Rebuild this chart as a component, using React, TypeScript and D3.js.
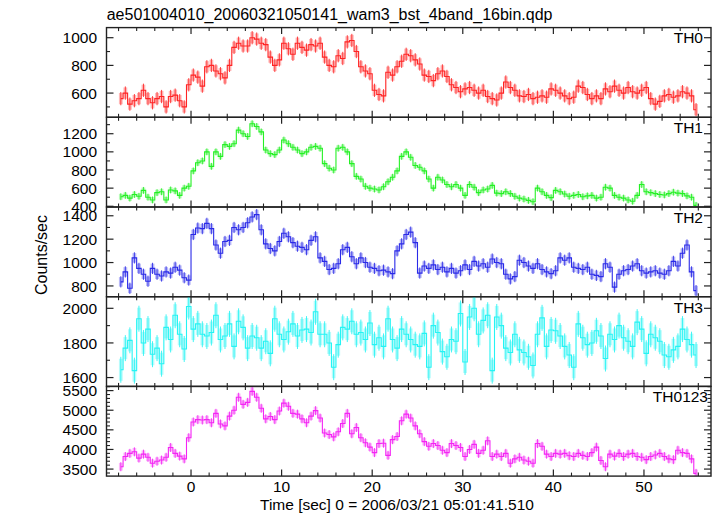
import React from "react";
import * as d3 from "d3";

// bins: centre of first bin and bin width (seconds)
const T_FIRST = -7.75;
const T_BIN = 0.5;

const th0 = [
  560, 600, 520, 545, 560, 620, 560, 530,
  560, 575, 500, 575, 585, 545, 500, 660,
  730, 715, 650, 790, 800, 760, 740, 710,
  800, 930, 960, 940, 940, 1000, 990, 960,
  950, 860, 800, 840, 960, 920, 880, 960,
  930, 910, 950, 940, 960, 860, 800, 790,
  870, 850, 970, 980, 900, 790, 760, 740,
  620, 590, 580, 750, 730, 790, 830, 880,
  870, 840, 810, 730, 720, 690, 740, 760,
  720, 660, 640, 610, 630, 640, 620, 600,
  620, 575, 560, 550, 600, 680, 640, 620,
  580, 575, 590, 560, 570, 580, 570, 630,
  620, 600, 580, 560, 570, 650, 640, 590,
  560, 580, 560, 630, 610, 650, 620, 600,
  640, 610, 600, 620, 640, 560, 520, 540,
  580, 590, 570, 580, 610, 600, 580, 480,
];

const th1 = [
  505, 520, 490, 530, 510, 575, 500, 470,
  550, 560, 470, 580, 570, 520, 600, 620,
  790, 880, 900, 1000, 840, 1000, 950, 1080,
  1060, 1090, 1240, 1200, 1170, 1310, 1280, 1220,
  1020, 980, 970, 1020, 1130, 1090, 1050, 1020,
  980, 1000, 1050, 1060, 1040, 870, 820, 800,
  1040, 1050, 1000, 870, 730, 700, 620, 600,
  590, 580, 615, 670, 720, 790, 950, 1000,
  940, 850, 830, 790, 700, 600, 720, 690,
  640, 615, 640, 600, 520, 640, 610, 550,
  580, 590, 630, 545, 540, 560, 540, 510,
  490, 480, 465, 450, 600, 560, 520, 495,
  575, 560, 535, 510, 520, 530, 505, 515,
  520, 490, 500, 610, 600, 520, 500, 490,
  470, 455, 520, 640, 560, 550, 540, 530,
  525, 540, 555, 545, 540, 515, 500, 410,
];

const th2 = [
  835, 920, 780, 1040, 950, 900, 840, 950,
  900, 885, 920, 910, 960, 935, 870, 850,
  1240, 1295, 1290, 1335, 1290, 1150, 1080, 1180,
  1190, 1300, 1280, 1300, 1340, 1390, 1410, 1280,
  1160, 1120, 1100, 1180, 1250, 1220, 1170, 1140,
  1130, 1110, 1190, 1220, 1040, 1010, 940, 950,
  990, 1110, 1130, 1050, 990, 1040, 1000, 960,
  950, 930, 935, 920, 905, 1100, 1160, 1240,
  1260, 1170, 910, 970, 950, 980, 940, 960,
  920, 950, 910, 930, 980, 940, 1010, 970,
  990, 960, 1030, 1000, 990, 900, 860, 880,
  1020, 1000, 970, 950, 990, 940, 920, 905,
  930, 1040, 1020, 1040, 960, 950, 940, 960,
  900, 890, 880, 990, 960, 790, 900, 930,
  940, 970, 990, 930, 910, 920, 930, 910,
  900, 930, 1010, 970, 1080, 1150, 920, 760,
];

const th3 = [
  1645, 1770, 1815, 1640, 1940, 1800, 1880, 1735,
  1770, 1680, 1890, 1820, 1960, 1850, 1765, 2010,
  1880, 1910, 1850, 1840, 1860, 1960, 1820, 1840,
  1910, 1780, 1925, 1890, 1770, 1840, 1830, 1770,
  1810, 1740, 1940, 1850, 1820, 1865, 1910, 1840,
  1875, 1880, 1860, 1980, 1850, 1850, 1800, 1660,
  1790, 1890, 1880, 1925, 1850, 1860, 1820, 1915,
  1790, 1830, 1780, 1940, 1820, 1770, 1880, 1850,
  1820, 1790, 1780, 1855, 1660, 1900, 1860, 1750,
  1720, 1820, 1810, 1970, 1690, 1950, 2000, 1850,
  1930, 1960, 1640, 1950, 1900, 1770, 1745, 1850,
  1760, 1745, 1720, 1670, 1850, 1945, 1780, 1875,
  1870, 1840, 1780, 1730, 1660, 1910, 1830, 1790,
  1800, 1870, 1840, 1710, 1850, 1820, 1900, 1830,
  1810, 1780, 1920, 1880, 1740, 1850, 1830, 1810,
  1730, 1720, 1760, 1780, 1880, 1820, 1790, 1730,
];

const th0123 = [
  3560, 3820, 3900, 3940, 3780, 3880, 3800, 3650,
  3700, 3730, 3800, 4050, 3900, 3830, 3760, 4300,
  4700, 4760, 4750, 4760, 4680, 4920, 4650, 4600,
  4850, 5000, 5330, 5150, 5200, 5480, 5330, 5050,
  4780, 4840, 4760, 4980, 5180, 5100, 4920, 4900,
  4780, 4680, 4850, 4990, 4800, 4420, 4380, 4320,
  4450, 4660, 4920, 4400, 4560, 4300, 4170, 4060,
  3920, 4150, 4160, 3850, 4250, 4330, 4730, 4900,
  4800, 4600, 4400, 4200, 4080, 4150, 4100, 3980,
  3920, 4150, 4100, 4050, 3820, 4000, 4130, 3900,
  3980, 4220, 3820, 3880, 3820, 3900, 3650, 3760,
  3800, 3730, 3700, 3650, 4150, 4080, 3880, 3820,
  3900, 3880, 3900, 3840, 3820, 3900, 3850, 3820,
  3920, 4060, 3720, 3560, 3880, 3830, 3900, 3820,
  3880, 3900, 3820, 3800, 3740, 3820, 3860, 3900,
  3820, 3760, 3740, 3980, 3920, 3900, 3760, 3390,
];

const panelNames = ["TH0", "TH1", "TH2", "TH3", "TH0123"];
const panelValues = [th0, th1, th2, th3, th0123];
const panelErrors = [48, 38, 48, 75, 115];
const panelDomains: [number, number][] = [
  [425, 1073],
  [392, 1381],
  [708, 1475],
  [1549, 2067],
  [3321, 5607],
];
const panelTickLabels = [
  [600, 800, 1000],
  [400, 600, 800, 1000, 1200],
  [800, 1000, 1200, 1400],
  [1600, 1800, 2000],
  [3500, 4000, 4500, 5000, 5500],
];
const panelColors = ["#ff2424", "#24f024", "#2a2ae8", "#24f4f4", "#f424f4"];
const xTickLabels = [0, 10, 20, 30, 40, 50];

const TITLE = "ae501004010_20060321050141_wam3_bst_4band_16bin.qdp";
const Y_LABEL = "Counts/sec";
const X_LABEL = "Time [sec] 0 = 2006/03/21 05:01:41.510";

const FONT = "'Liberation Sans', Arial, Helvetica, sans-serif";

export default function App() {
  const W = 717;
  const H = 516;
  const left = 106.5;
  const right = 711;
  const top = 27.6;
  const ph = 89.7;

  const x = d3.scaleLinear().domain([-9.33, 57.4]).range([left, right]);
  const majorX = d3.range(-10, 60, 10).filter((v) => x(v) > left && x(v) < right);
  const minorX = d3.range(-8, 58, 2).filter((v) => v % 10 !== 0 && x(v) > left && x(v) < right);

  return (
    <svg
      width={W}
      height={H}
      style={{ position: "absolute", left: 0, top: 0, background: "#fff" }}
      fontFamily={FONT}
    >
      <defs>
        {panelNames.map((n, i) => (
          <clipPath id={`clip${i}`} key={n}>
            <rect x={left} y={top + i * ph} width={right - left} height={ph} />
          </clipPath>
        ))}
      </defs>

      <text x={106.7} y={19.5} fontSize={16} fill="#000">
        {TITLE}
      </text>

      {panelNames.map((name, i) => {
        const y0 = top + i * ph;
        const y1 = y0 + ph;
        const y = d3.scaleLinear().domain(panelDomains[i]).range([y1, y0]);
        const vals = panelValues[i];
        const err = panelErrors[i];
        const color = panelColors[i];
        const pts = vals.map((v, k) => ({ t: T_FIRST + k * T_BIN, v }));
        const line = d3
          .line<{ t: number; v: number }>()
          .x((d) => x(d.t))
          .y((d) => y(d.v))
          .curve(d3.curveStep);
        const [d0, d1] = panelDomains[i];
        const minorY = d3
          .range(Math.ceil(d0 / 100) * 100, d1, 100)
          .filter((v) => !panelTickLabels[i].includes(v));
        const binW = x(T_BIN) - x(0);
        return (
          <g key={name}>
            <g clipPath={`url(#clip${i})`}>
              {pts.map((p, k) => (
                <rect
                  key={`b${k}`}
                  x={x(p.t) - binW * 0.42}
                  width={binW * 0.84}
                  y={y(p.v + err * 0.85)}
                  height={y(p.v - err * 0.85) - y(p.v + err * 0.85)}
                  fill={color}
                  opacity={0.33}
                />
              ))}
              {pts.map((p, k) => (
                <line
                  key={`e${k}`}
                  x1={x(p.t)}
                  x2={x(p.t)}
                  y1={y(p.v + err)}
                  y2={y(p.v - err)}
                  stroke={color}
                  strokeWidth={1}
                  opacity={0.85}
                />
              ))}
              <path d={line(pts) || ""} fill="none" stroke={color} strokeWidth={1.1} />
            </g>

            {/* frame */}
            <rect
              x={left}
              y={y0}
              width={right - left}
              height={ph}
              fill="none"
              stroke="#222"
              strokeWidth={1.4}
            />

            {/* x ticks top & bottom */}
            {majorX.map((v) => (
              <g key={`mx${v}`} stroke="#222" strokeWidth={1.2}>
                <line x1={x(v)} x2={x(v)} y1={y1} y2={y1 - 6.5} />
                <line x1={x(v)} x2={x(v)} y1={y0} y2={y0 + 6.5} />
              </g>
            ))}
            {minorX.map((v) => (
              <g key={`nx${v}`} stroke="#222" strokeWidth={1.1}>
                <line x1={x(v)} x2={x(v)} y1={y1} y2={y1 - 3.5} />
                <line x1={x(v)} x2={x(v)} y1={y0} y2={y0 + 3.5} />
              </g>
            ))}

            {/* y ticks left & right */}
            {panelTickLabels[i].map((v) => (
              <g key={`my${v}`} stroke="#222" strokeWidth={1.2}>
                <line x1={left} x2={left + 7} y1={y(v)} y2={y(v)} />
                <line x1={right} x2={right - 7} y1={y(v)} y2={y(v)} />
              </g>
            ))}
            {minorY.map((v) => (
              <g key={`ny${v}`} stroke="#222" strokeWidth={1.1}>
                <line x1={left} x2={left + 3.5} y1={y(v)} y2={y(v)} />
                <line x1={right} x2={right - 3.5} y1={y(v)} y2={y(v)} />
              </g>
            ))}

            {/* y tick labels */}
            {panelTickLabels[i].map((v) => (
              <text
                key={`ly${v}`}
                x={97}
                y={y(v)}
                dy="0.36em"
                textAnchor="end"
                fontSize={15.5}
                fill="#000"
              >
                {v}
              </text>
            ))}

            <text
              x={name === "TH0123" ? 708 : 703}
              y={y0 + 15.8}
              textAnchor="end"
              fontSize={15.5}
              fill="#000"
            >
              {name}
            </text>
          </g>
        );
      })}

      {/* x tick labels */}
      {xTickLabels.map((v) => (
        <text
          key={`lx${v}`}
          x={x(v)}
          y={492}
          textAnchor="middle"
          fontSize={15.5}
          fill="#000"
        >
          {v}
        </text>
      ))}

      <text x={260} y={510} fontSize={15.5} fill="#000">
        {X_LABEL}
      </text>

      <text
        transform="translate(46.5,255) rotate(-90)"
        textAnchor="middle"
        fontSize={16}
        fill="#000"
      >
        {Y_LABEL}
      </text>
    </svg>
  );
}
